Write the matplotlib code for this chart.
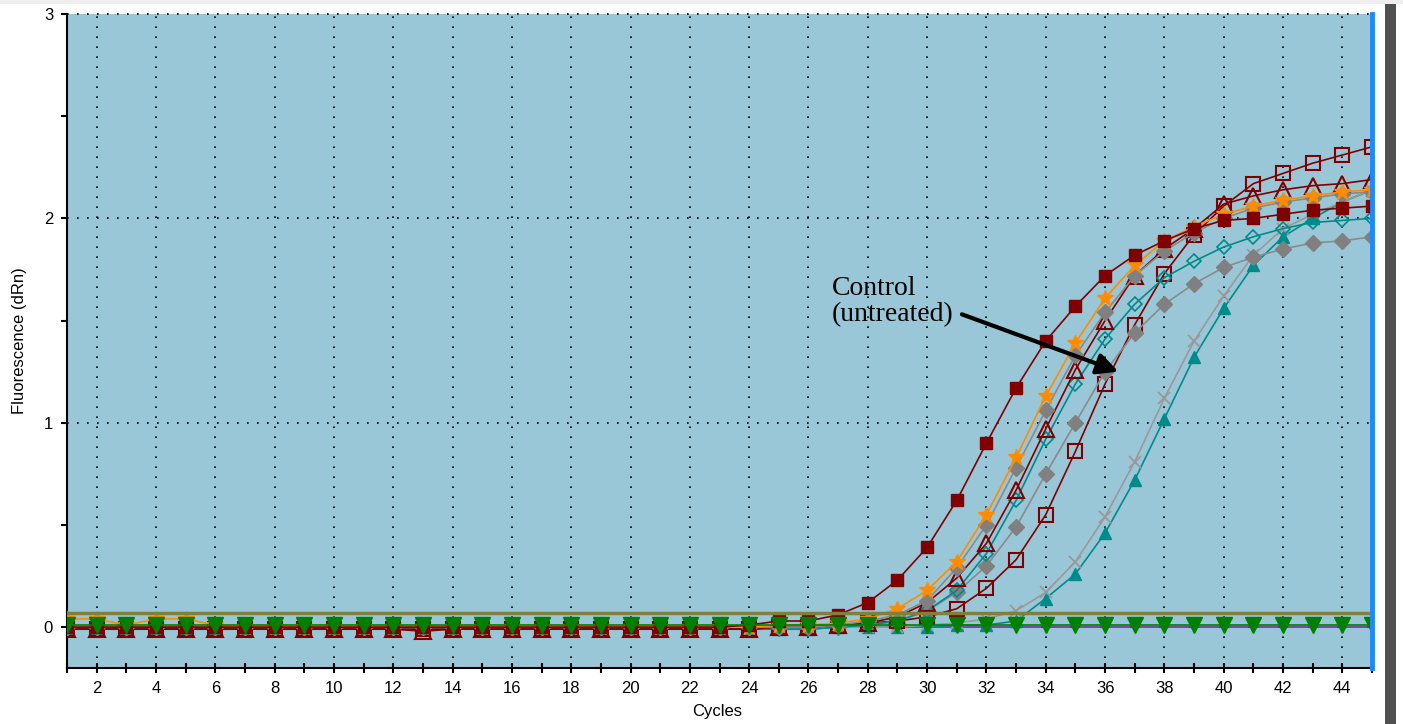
import matplotlib.pyplot as plt
from matplotlib.patches import Rectangle

plt.rcParams['font.family'] = ['Liberation Sans', 'DejaVu Sans']

# qPCR amplification plot, cycles 1..45
cycles = list(range(1, 46))

# dark red filled squares
red_filled = [0.00, 0.00, 0.00, 0.00, 0.00, 0.00, 0.00, 0.00, 0.00, 0.00,
              0.00, 0.00, 0.00, 0.00, 0.00, 0.00, 0.00, 0.00, 0.00, 0.00,
              0.00, 0.00, 0.00, 0.01, 0.03, 0.03, 0.06, 0.12, 0.23, 0.39,
              0.62, 0.90, 1.17, 1.40, 1.57, 1.72, 1.82, 1.89, 1.95, 1.99,
              2.00, 2.02, 2.04, 2.05, 2.06]
# orange stars
orange_star = [0.04, 0.04, 0.01, 0.04, 0.04, 0.01, 0.00, 0.00, 0.00, 0.00,
               0.00, 0.00, 0.00, 0.00, 0.00, 0.00, 0.00, 0.00, 0.00, 0.00,
               0.00, 0.00, 0.00, 0.00, 0.01, 0.01, 0.02, 0.04, 0.09, 0.18,
               0.32, 0.55, 0.83, 1.13, 1.39, 1.61, 1.77, 1.89, 1.96, 2.02,
               2.06, 2.09, 2.11, 2.13, 2.14]
# gray filled diamonds (early)
gray_diam_a = [0.00, 0.00, 0.00, 0.00, 0.00, 0.00, 0.00, 0.00, 0.00, 0.00,
               0.00, 0.00, 0.00, 0.00, 0.00, 0.00, 0.00, 0.00, 0.00, 0.00,
               0.00, 0.00, 0.00, 0.00, 0.00, 0.00, 0.01, 0.03, 0.06, 0.13,
               0.29, 0.50, 0.78, 1.06, 1.33, 1.54, 1.72, 1.84, 1.93, 2.00,
               2.05, 2.08, 2.10, 2.12, 2.13]
# dark red open triangles
red_tri_open = [-0.01, -0.01, -0.01, -0.01, -0.01, -0.01, -0.01, -0.01, -0.01, -0.01,
                -0.01, -0.01, -0.02, -0.01, -0.01, -0.01, -0.01, -0.01, -0.01, -0.01,
                -0.01, -0.01, -0.01, -0.01, 0.00, 0.00, 0.01, 0.02, 0.05, 0.12,
                0.24, 0.41, 0.67, 0.97, 1.26, 1.50, 1.72, 1.85, 1.95, 2.07,
                2.11, 2.14, 2.16, 2.17, 2.19]
# teal open diamonds
teal_diam_open = [0.00, 0.00, 0.00, 0.00, 0.00, 0.00, 0.00, 0.00, 0.00, 0.00,
                  0.00, 0.00, 0.00, 0.00, 0.00, 0.00, 0.00, 0.00, 0.00, 0.00,
                  0.00, 0.00, 0.00, 0.00, -0.01, -0.01, 0.00, 0.01, 0.03, 0.08,
                  0.18, 0.36, 0.62, 0.92, 1.19, 1.41, 1.58, 1.71, 1.79, 1.86,
                  1.91, 1.95, 1.98, 1.99, 2.00]
# gray filled diamonds (later)
gray_diam_b = [0.00, 0.00, 0.00, 0.00, 0.00, 0.00, 0.00, 0.00, 0.00, 0.00,
               0.00, 0.00, 0.00, 0.00, 0.00, 0.00, 0.00, 0.00, 0.00, 0.00,
               0.00, 0.00, 0.00, 0.00, 0.00, 0.00, 0.00, 0.01, 0.03, 0.08,
               0.17, 0.30, 0.49, 0.75, 1.00, 1.25, 1.44, 1.58, 1.68, 1.76,
               1.81, 1.85, 1.88, 1.89, 1.91]
# dark red open squares - control (untreated)
red_sq_open = [-0.01, -0.01, -0.01, -0.01, -0.01, -0.01, -0.01, -0.01, -0.01, -0.01,
               -0.01, -0.01, -0.01, -0.01, -0.01, -0.01, -0.01, -0.01, -0.01, -0.01,
               -0.01, -0.01, -0.01, -0.01, 0.00, 0.00, 0.01, 0.02, 0.03, 0.05,
               0.09, 0.19, 0.33, 0.55, 0.86, 1.19, 1.48, 1.73, 1.92, 2.06,
               2.17, 2.22, 2.27, 2.31, 2.35]
# light gray crosses
gray_cross = [0.00, 0.00, 0.00, 0.00, 0.00, 0.00, 0.00, 0.00, 0.00, 0.00,
              0.00, 0.00, 0.00, 0.00, 0.00, 0.00, 0.00, 0.00, 0.00, 0.00,
              0.00, 0.00, 0.00, 0.00, 0.00, 0.00, 0.00, 0.00, 0.00, 0.01,
              0.02, 0.04, 0.08, 0.17, 0.32, 0.54, 0.81, 1.12, 1.40, 1.62,
              1.82, 1.95, 2.02, 2.08, 2.14]
# teal filled triangles
teal_tri = [-0.01, -0.01, -0.01, -0.01, -0.01, -0.01, -0.01, -0.01, -0.01, -0.01,
            -0.01, -0.01, -0.01, -0.01, -0.01, -0.01, -0.01, -0.01, -0.01, -0.01,
            -0.01, -0.01, -0.01, -0.01, -0.01, -0.01, 0.00, 0.00, 0.00, 0.00,
            0.01, 0.01, 0.03, 0.14, 0.26, 0.46, 0.72, 1.02, 1.32, 1.56,
            1.77, 1.91, 2.00, 2.08, 2.14]
# purple flat (no amplification)
purple_flat = [0.00, 0.00, 0.00, 0.00, 0.00, 0.00, 0.00, 0.00, 0.00, 0.00,
               0.00, 0.00, 0.00, 0.00, 0.00, 0.00, 0.00, 0.00, 0.00, 0.00,
               0.00, 0.00, 0.00, 0.00, 0.00, 0.00, 0.00, 0.00, 0.00, 0.00,
               0.00, 0.00, 0.00, 0.00, 0.00, 0.00, 0.00, 0.00, 0.00, 0.00,
               0.00, 0.00, 0.00, 0.00, 0.00]
# green down triangles (no amplification)
green_ntc = [0.01, 0.01, 0.01, 0.01, 0.01, 0.01, 0.01, 0.01, 0.01, 0.01,
             0.01, 0.01, 0.01, 0.01, 0.01, 0.01, 0.01, 0.01, 0.01, 0.01,
             0.01, 0.01, 0.01, 0.01, 0.01, 0.01, 0.01, 0.01, 0.01, 0.01,
             0.01, 0.01, 0.01, 0.01, 0.01, 0.01, 0.01, 0.01, 0.01, 0.01,
             0.01, 0.01, 0.01, 0.01, 0.01]
threshold = 0.07

DR = '#800000'
fig = plt.figure(figsize=(14.03, 7.24), dpi=100)
ax = fig.add_axes([67/1403, 1 - 668/724, (1372 - 67)/1403, (668 - 14)/724])
ax.set_facecolor('#9AC7D7')

lw = 1.2
ax.plot(cycles, purple_flat, color='#7030A0', lw=lw, marker='+', ms=7, mew=1.5, zorder=2)
ax.plot(cycles, teal_tri, color='#008B8B', lw=lw, marker='^', ms=9, mfc='#008B8B', mec='#008B8B', zorder=3)
ax.plot(cycles, gray_cross, color='#999999', lw=lw, marker='x', ms=9, mew=1.3, zorder=3)
ax.plot(cycles, red_sq_open, color=DR, lw=lw, marker='s', ms=10, mfc='none', mec=DR, mew=1.5, zorder=3)
ax.plot(cycles, gray_diam_b, color='#8A8A8A', lw=lw, marker='D', ms=8, mfc='#808080', mec='#808080', zorder=3)
ax.plot(cycles, teal_diam_open, color='#008B8B', lw=lw, marker='D', ms=7, mfc='none', mec='#008B8B', mew=1.2, zorder=3)
ax.plot(cycles, red_tri_open, color=DR, lw=lw, marker='^', ms=11, mfc='none', mec=DR, mew=1.5, zorder=3)
ax.plot(cycles, gray_diam_a, color='#8A8A8A', lw=lw, marker='D', ms=8, mfc='#808080', mec='#808080', zorder=3)
ax.plot(cycles, orange_star, color='#FF8C00', lw=lw, marker='*', ms=12, mfc='#FF8C00', mec='#FF8C00', zorder=4)
ax.plot(cycles, red_filled, color=DR, lw=lw, marker='s', ms=9, mfc=DR, mec=DR, zorder=4)
ax.plot(cycles, green_ntc, color='#008000', lw=lw, marker='v', ms=12, mfc='#008000', mec='#008000', zorder=5)

ax.axhline(threshold, color='#80803A', lw=2.5, zorder=4)
ax.axvline(45, color='#1E88FF', lw=3.5, zorder=6, clip_on=False)

ax.set_xlim(1, 45)
ax.set_ylim(-0.2, 3)
ax.set_xticks(range(1, 46))
ax.set_xticklabels([str(c) if c % 2 == 0 else '' for c in cycles])
ax.set_yticks([0, 0.5, 1, 1.5, 2, 2.5, 3])
ax.set_yticklabels(['0', '', '1', '', '2', '', '3'])

# dotted grid at even cycles and whole units
for c in range(2, 45, 2):
    ax.axvline(c, color='black', lw=1.2, ls=(0, (1, 5)), zorder=1)
for v in [1, 2, 3]:
    ax.axhline(v, color='black', lw=1.2, ls=(0, (1, 5)), zorder=1, clip_on=False)

ax.spines['top'].set_visible(False)
ax.spines['right'].set_visible(False)
ax.spines['left'].set_linewidth(1.5)
ax.spines['bottom'].set_linewidth(1.5)
ax.tick_params(axis='x', direction='inout', length=7, width=1.5, labelsize=12, pad=6)
ax.tick_params(axis='y', direction='out', length=4, width=1.5, labelsize=12, pad=6)

ax.set_xlabel('Cycles', fontsize=12)
ax.set_ylabel('Fluorescence (dRn)', fontsize=12)
ax.yaxis.set_label_coords(-0.031, 0.5)
ax.xaxis.set_label_coords(0.498, -0.055)

ax.annotate('Control\n(untreated)', xy=(36.45, 1.25), xytext=(26.8, 1.47),
            fontsize=20, family=['Liberation Serif', 'DejaVu Serif'],
            ha='left', va='bottom', linespacing=1.05,
            arrowprops=dict(arrowstyle='-|>', color='black', lw=3, mutation_scale=32,
                            shrinkA=4, shrinkB=0, relpos=(1.0, 0.3)),
            zorder=7)

# right-hand window frame
fig.patches.append(Rectangle((1385/1403, 0), 11/1403, 1, transform=fig.transFigure,
                             facecolor='#505050', edgecolor='none'))
fig.patches.append(Rectangle((0, 1 - 4/724), 1, 4/724, transform=fig.transFigure,
                             facecolor='#EEEEEE', edgecolor='none'))

fig.savefig('out.png', dpi=100)
